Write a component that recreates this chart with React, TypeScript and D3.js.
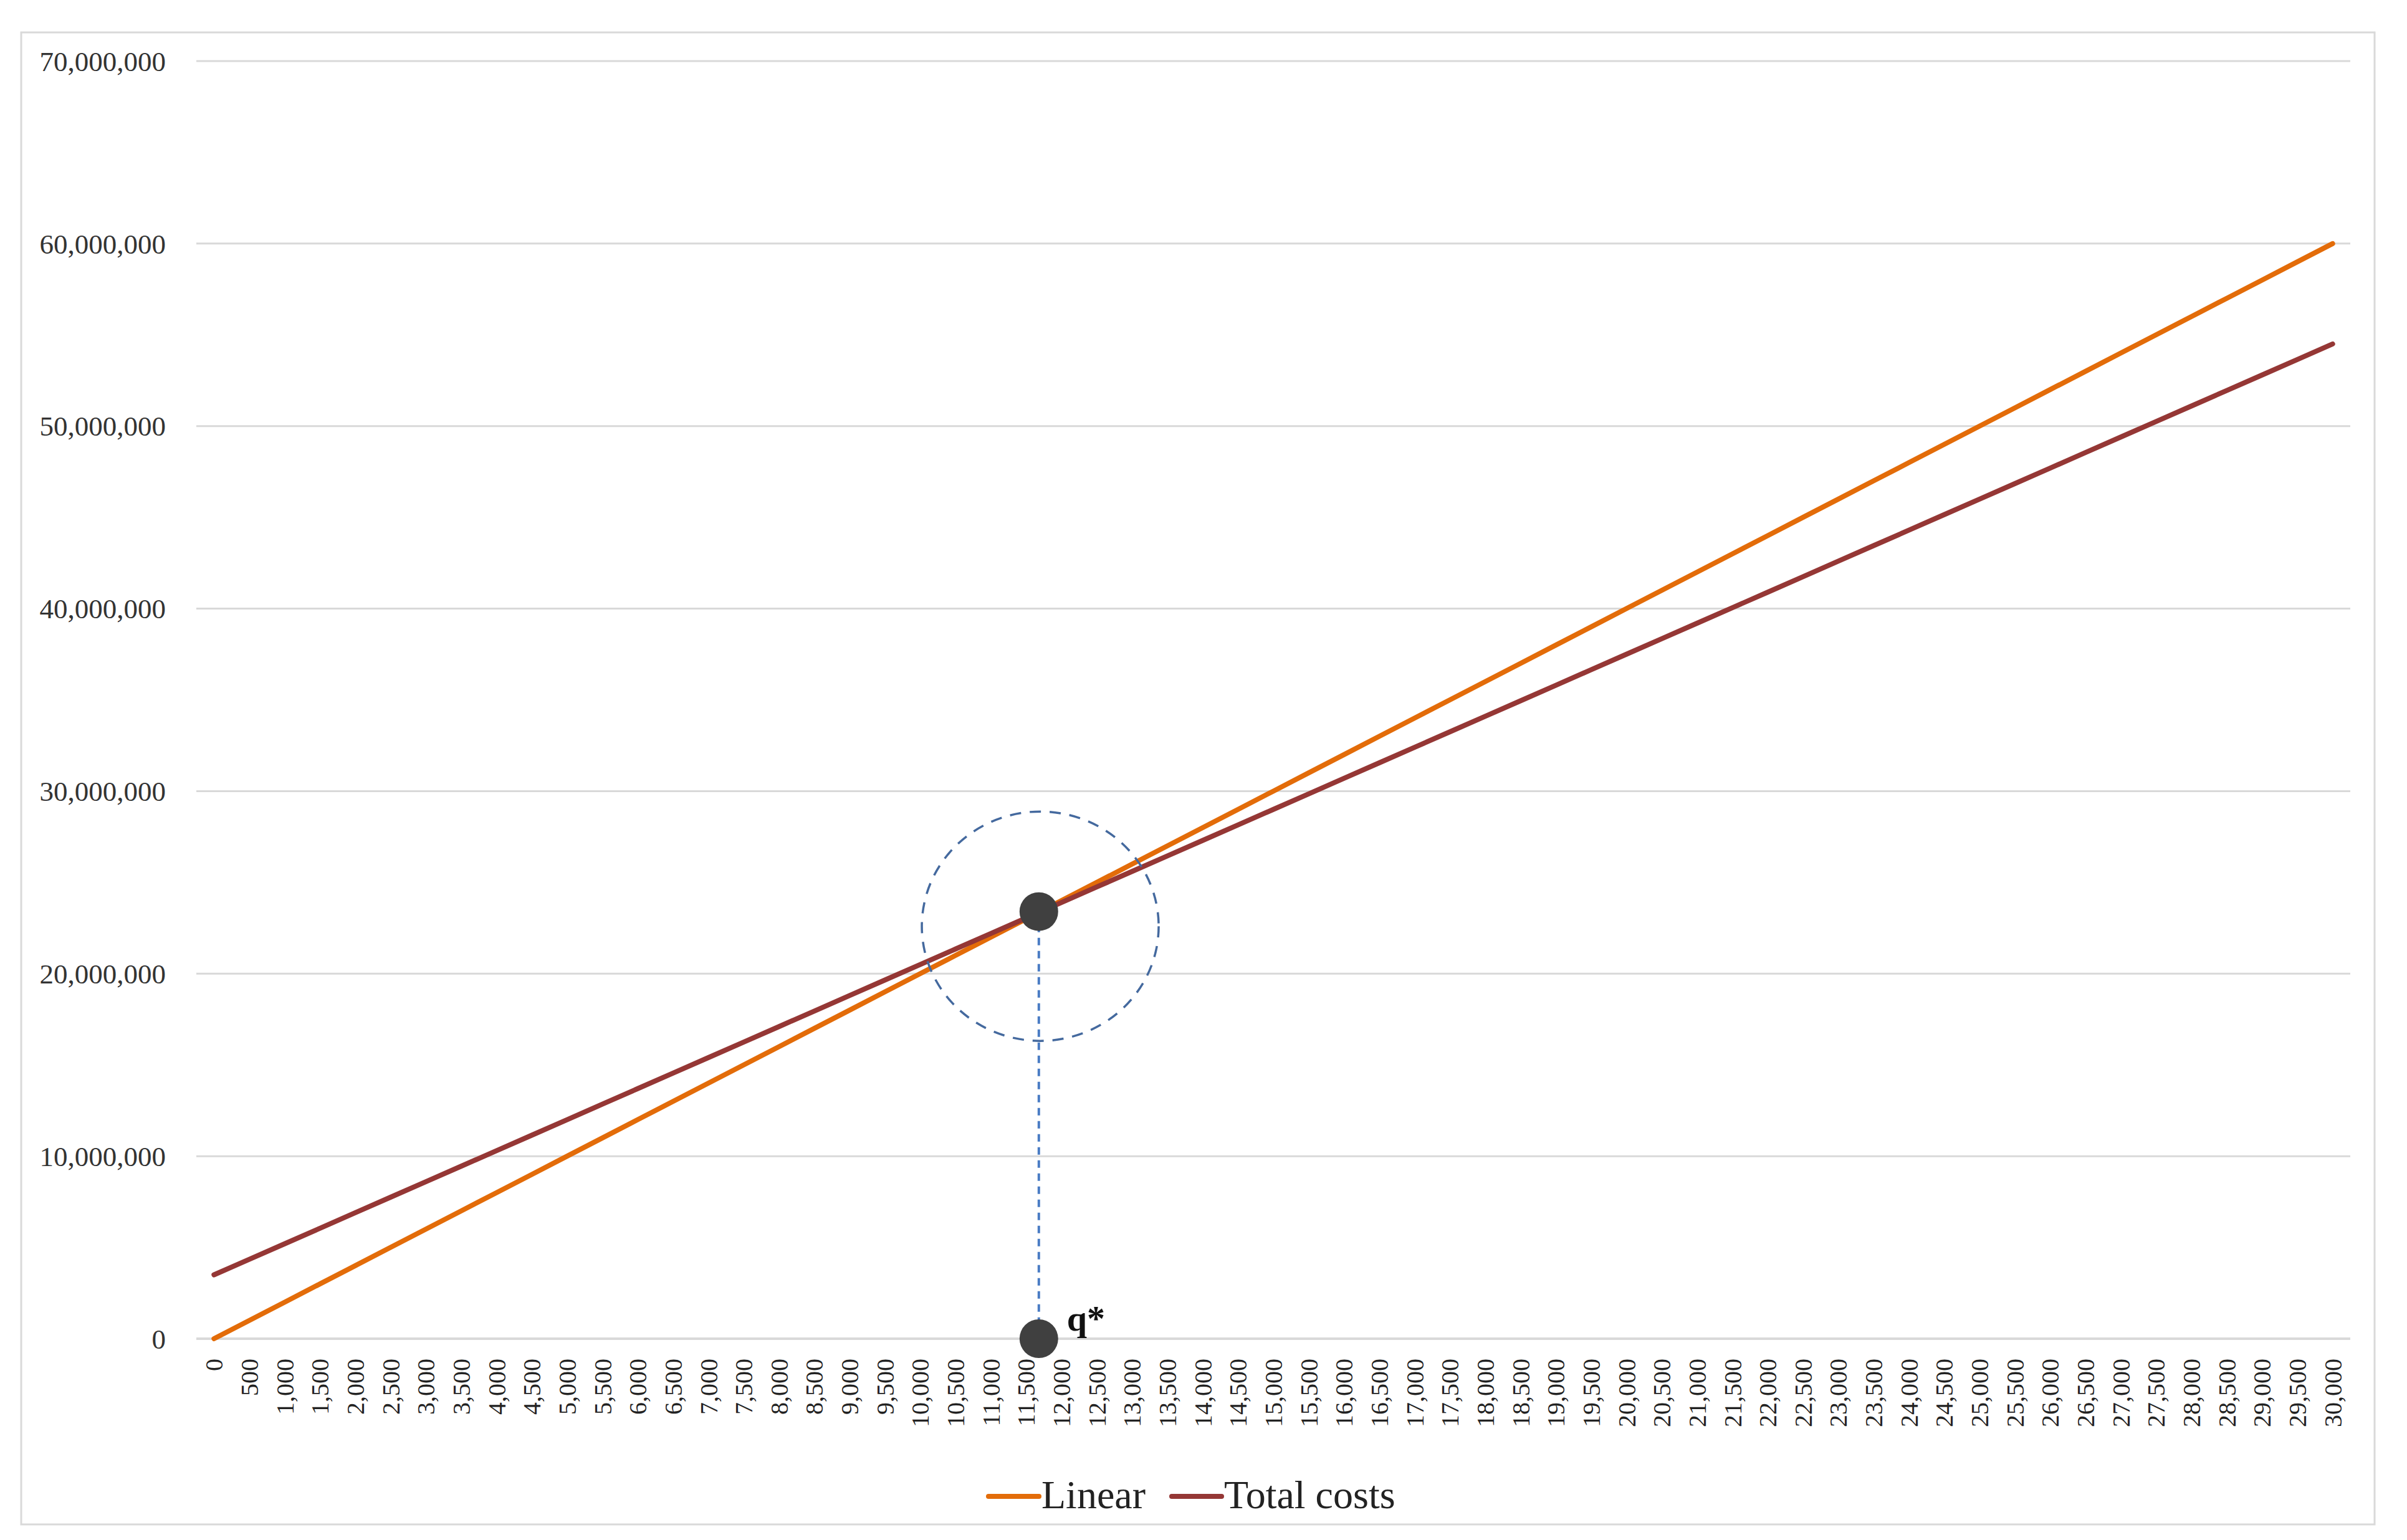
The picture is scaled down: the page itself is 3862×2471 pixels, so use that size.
import React from "react";
import * as d3 from "d3";

// ---------- data ----------
const QUANTITY = [
  0, 500, 1000, 1500, 2000, 2500, 3000, 3500, 4000, 4500, 5000, 5500, 6000, 6500, 7000, 7500,
  8000, 8500, 9000, 9500, 10000, 10500, 11000, 11500, 12000, 12500, 13000, 13500, 14000, 14500,
  15000, 15500, 16000, 16500, 17000, 17500, 18000, 18500, 19000, 19500, 20000, 20500, 21000,
  21500, 22000, 22500, 23000, 23500, 24000, 24500, 25000, 25500, 26000, 26500, 27000, 27500,
  28000, 28500, 29000, 29500, 30000,
];

// values in millions
const LINEAR = [
  0, 1, 2, 3, 4, 5, 6, 7, 8, 9, 10, 11, 12, 13, 14, 15, 16, 17, 18, 19, 20, 21, 22, 23, 24, 25,
  26, 27, 28, 29, 30, 31, 32, 33, 34, 35, 36, 37, 38, 39, 40, 41, 42, 43, 44, 45, 46, 47, 48, 49,
  50, 51, 52, 53, 54, 55, 56, 57, 58, 59, 60,
];

const TOTAL_COSTS = [
  3.5, 4.35, 5.2, 6.05, 6.9, 7.75, 8.6, 9.45, 10.3, 11.15, 12.0, 12.85, 13.7, 14.55, 15.4, 16.25,
  17.1, 17.95, 18.8, 19.65, 20.5, 21.35, 22.2, 23.05, 23.9, 24.75, 25.6, 26.45, 27.3, 28.15, 29.0,
  29.85, 30.7, 31.55, 32.4, 33.25, 34.1, 34.95, 35.8, 36.65, 37.5, 38.35, 39.2, 40.05, 40.9, 41.75,
  42.6, 43.45, 44.3, 45.15, 46.0, 46.85, 47.7, 48.55, 49.4, 50.25, 51.1, 51.95, 52.8, 53.65, 54.5,
];

const Y_TICKS = [0, 10, 20, 30, 40, 50, 60, 70];

const SERIES = [
  { name: "Linear", values: LINEAR, color: "#E36C09" },
  { name: "Total costs", values: TOTAL_COSTS, color: "#953735" },
];

// break-even annotation
const Q_STAR = 11680;
const Q_STAR_VALUE = 23.4;
const CIRCLE_CENTER_VALUE = 22.6;

// ---------- layout ----------
const W = 3862;
const H = 2471;
const PLOT_L = 315;
const PLOT_R = 3771;
const PLOT_T = 98;
const PLOT_B = 2148;

export default function App() {
  const labels = QUANTITY.map((q) => d3.format(",")(q));
  const x = d3.scalePoint<string>().domain(labels).range([PLOT_L, PLOT_R]).padding(0.5);
  const xq = d3
    .scaleLinear()
    .domain([QUANTITY[0], QUANTITY[QUANTITY.length - 1]])
    .range([x(labels[0]) as number, x(labels[labels.length - 1]) as number]);
  const y = d3.scaleLinear().domain([0, 70]).range([PLOT_B, PLOT_T]);

  const line = d3
    .line<number>()
    .x((_, i) => x(labels[i]) as number)
    .y((v) => y(v));

  const fmt = d3.format(",");
  const serif = "'Palatino Linotype', 'Book Antiqua', 'Liberation Serif', 'DejaVu Serif', serif";

  const qx = xq(Q_STAR);
  const qy = y(Q_STAR_VALUE);

  return (
    <svg
      width={W}
      height={H}
      viewBox={`0 0 ${W} ${H}`}
      style={{ position: "absolute", left: 0, top: 0, background: "#fff" }}
    >
      <rect x={0} y={0} width={W} height={H} fill="#fff" />
      <rect x={34} y={52} width={3776} height={2394} fill="none" stroke="#d9d9d9" strokeWidth={3} />

      {/* gridlines + y labels */}
      {Y_TICKS.map((t) => (
        <g key={t}>
          <line x1={PLOT_L} x2={PLOT_R} y1={y(t)} y2={y(t)} stroke="#d9d9d9" strokeWidth={t === 0 ? 4 : 3} />
          <text
            x={266}
            y={y(t)}
            dy="0.35em"
            textAnchor="end"
            fontFamily={serif}
            fontSize={45}
            fill="#333"
          >
            {fmt(t * 1e6)}
          </text>
        </g>
      ))}

      {/* x labels */}
      {labels.map((l) => (
        <text
          key={l}
          transform={`translate(${x(l)},${2180}) rotate(-90)`}
          textAnchor="end"
          dy="0.35em"
          fontFamily={serif}
          fontSize={40}
          fill="#222"
        >
          {l}
        </text>
      ))}

      {/* series */}
      {SERIES.map((s) => (
        <path
          key={s.name}
          d={line(s.values) || ""}
          fill="none"
          stroke={s.color}
          strokeWidth={8}
          strokeLinecap="round"
          strokeLinejoin="round"
        />
      ))}

      {/* annotation */}
      <ellipse
        cx={xq(11700)}
        cy={y(CIRCLE_CENTER_VALUE)}
        rx={190}
        ry={184}
        fill="none"
        stroke="#44699e"
        strokeWidth={3.5}
        strokeDasharray="18 14"
      />
      <line
        x1={qx}
        x2={qx}
        y1={qy}
        y2={y(0)}
        stroke="#4a7cc4"
        strokeWidth={4}
        strokeDasharray="12 9"
      />
      <circle cx={qx} cy={qy} r={31} fill="#404040" />
      <circle cx={qx} cy={y(0)} r={31} fill="#404040" />
      <text x={qx + 45} y={y(0) - 13} fontFamily={serif} fontWeight="bold" fontSize={58} fill="#111">
        q*
      </text>

      {/* legend */}
      <g>
        <line x1={1586} x2={1667} y1={2401} y2={2401} stroke={SERIES[0].color} strokeWidth={8} strokeLinecap="round" />
        <text x={1671} y={2420} fontFamily={serif} fontSize={64} fill="#222">
          {SERIES[0].name}
        </text>
        <line x1={1880} x2={1960} y1={2401} y2={2401} stroke={SERIES[1].color} strokeWidth={8} strokeLinecap="round" />
        <text x={1964} y={2420} fontFamily={serif} fontSize={64} fill="#222">
          {SERIES[1].name}
        </text>
      </g>
    </svg>
  );
}
